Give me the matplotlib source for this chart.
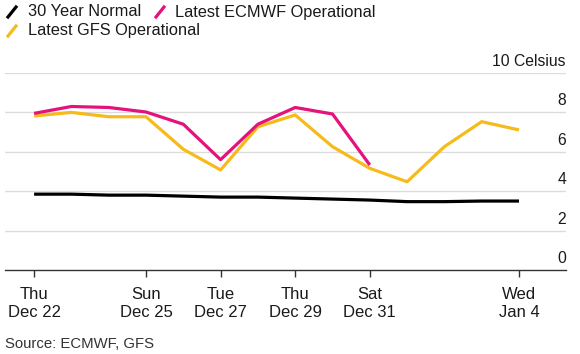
import matplotlib
matplotlib.use('Agg')
import matplotlib.pyplot as plt
import matplotlib.dates as mdates
from matplotlib.lines import Line2D
import matplotlib.transforms as mtrans

plt.rcParams['font.family'] = ['Liberation Sans', 'DejaVu Sans']

# data
dates = ['2022-12-22', '2022-12-23', '2022-12-24', '2022-12-25', '2022-12-26',
         '2022-12-27', '2022-12-28', '2022-12-29', '2022-12-30', '2022-12-31',
         '2023-01-01', '2023-01-02', '2023-01-03', '2023-01-04']
normal = [3.85, 3.85, 3.8, 3.8, 3.75, 3.7, 3.7, 3.65, 3.6, 3.55, 3.47, 3.47, 3.5, 3.5]
ecmwf = [7.95, 8.3, 8.25, 8.02, 7.4, 5.6, 7.4, 8.25, 7.92, 5.33]
gfs = [7.82, 8.0, 7.78, 7.78, 6.13, 5.08, 7.27, 7.87, 6.26, 5.16, 4.48, 6.26, 7.53, 7.11]
tick_dates = ['2022-12-22', '2022-12-25', '2022-12-27', '2022-12-29', '2022-12-31', '2023-01-04']
tick_labels = ['Thu\nDec 22', 'Sun\nDec 25', 'Tue\nDec 27', 'Thu\nDec 29', 'Sat\nDec 31', 'Wed\nJan 4']
y_ticks = [0, 2, 4, 6, 8, 10]
y_labels = ['0', '2', '4', '6', '8', '10 Celsius']

c_normal = '#000000'
c_ecmwf = '#e5127d'
c_gfs = '#f6bb1a'

x = mdates.datestr2num(dates)
xt = mdates.datestr2num(tick_dates)

W, H = 580, 354
fig = plt.figure(figsize=(W / 100, H / 100), dpi=100)
ax = fig.add_axes([5 / W, 84 / H, 561 / W, 197 / H])

for y in y_ticks[1:]:
    ax.axhline(y, color='#dcdcdc', lw=1, zorder=0)

ax.plot(x, normal, color=c_normal, lw=2.3, solid_capstyle='butt', zorder=3)
ax.plot(x, gfs, color=c_gfs, lw=2.3, solid_capstyle='butt', zorder=3)
ax.plot(x[:len(ecmwf)], ecmwf, color=c_ecmwf, lw=2.3, solid_capstyle='butt', zorder=4)

ax.set_xlim(x[0] - 0.78, x[0] + 14.26)
ax.set_ylim(0, 10)

for s in ['top', 'left', 'right']:
    ax.spines[s].set_visible(False)
ax.spines['bottom'].set_color('#333333')
ax.spines['bottom'].set_linewidth(1)

ax.set_yticks([])
ax.set_xticks(xt)
ax.set_xticklabels(tick_labels, fontsize=12, color='#1a1a1a', linespacing=1.3)
ax.tick_params(axis='x', length=5, width=1, color='#333333', pad=7)

trans = mtrans.blended_transform_factory(ax.transAxes, ax.transData)
off = mtrans.offset_copy(trans, fig=fig, x=0, y=4, units='dots')
for y, lab in zip(y_ticks, y_labels):
    ax.text(1.0, y, lab, transform=off, ha='right', va='bottom', fontsize=11.3, color='#1a1a1a')

# legend
def handle(px, py, color):
    fig.add_artist(Line2D([(px) / W, (px + 8) / W], [1 - (py + 5) / H, 1 - (py - 5) / H],
                          color=color, lw=2.3, transform=fig.transFigure))

handle(8, 12, c_normal)
fig.text(28 / W, 1 - 12 / H, '30 Year Normal', fontsize=11.8, va='center', color='#1a1a1a')
handle(156, 12, c_ecmwf)
fig.text(175 / W, 1 - 12 / H, 'Latest ECMWF Operational', fontsize=11.8, va='center', color='#1a1a1a')
handle(8, 31, c_gfs)
fig.text(28 / W, 1 - 31 / H, 'Latest GFS Operational', fontsize=11.8, va='center', color='#1a1a1a')

fig.text(5 / W, 1 - 344 / H, 'Source: ECMWF, GFS', fontsize=10.7, va='center', color='#333333')

fig.savefig('out.png', dpi=100)
